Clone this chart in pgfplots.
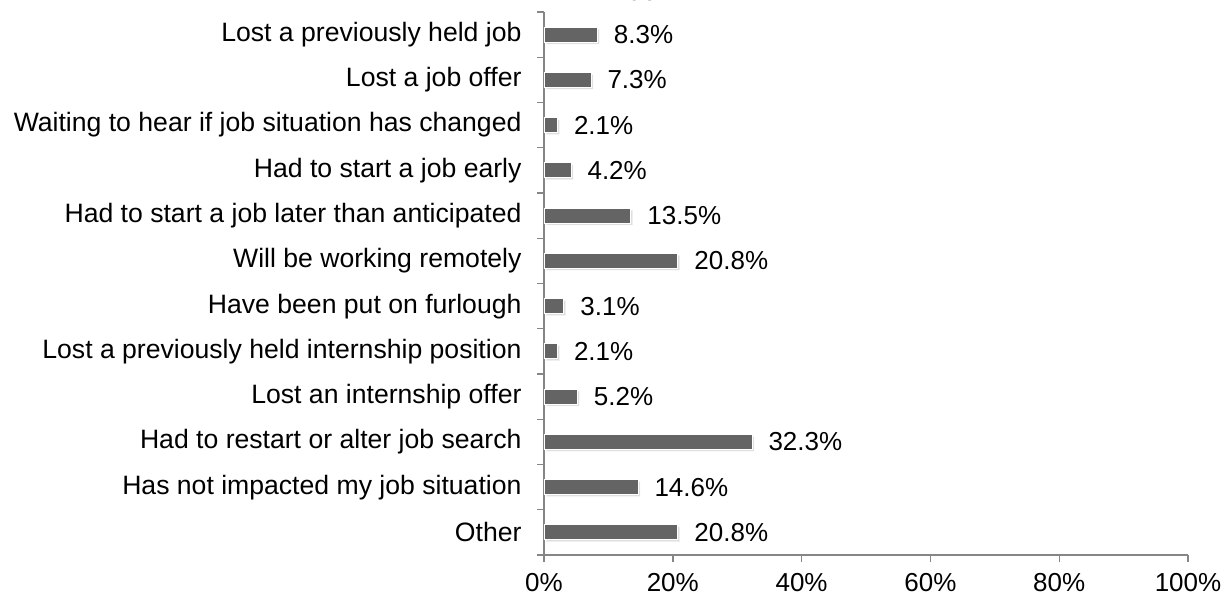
\documentclass[border=0pt]{standalone}
\usepackage{pgfplots}
\pgfplotsset{compat=1.18}
\usepackage{fontspec}
\setmainfont{Liberation Sans}
\usetikzlibrary{shadows}
\definecolor{barc}{RGB}{100,100,100}
\definecolor{axc}{RGB}{134,134,134}
\newcommand{\ff}{\fontsize{26}{30}\selectfont}
\newcommand{\fy}{\fontsize{26.6}{30}\selectfont}
\begin{document}
\begin{tikzpicture}[x=1pt,y=1pt]
\useasboundingbox (0,0) rectangle (1230,600);
\node[anchor=base, inner sep=0pt, font=\ff] at (620,599) {n = 96};
\begin{axis}[
  at={(544pt,45pt)}, anchor=south west,
  scale only axis, width=644pt, height=543pt,
  xmin=0, xmax=100, ymin=-0.5, ymax=11.5,
  axis x line*=bottom, axis y line*=left,
  axis line style={axc, line width=1.4pt},
  tick style={axc, line width=1.4pt},
  major tick length=7pt, tick align=outside,
  /pgf/number format/assume math mode=true,
  xtick={0,20,...,100},
  xticklabel={\pgfmathprintnumber{\tick}\%},
  xticklabel style={font=\ff, yshift=-8pt},
  ytick={-0.5,0.5,...,11.5},
  y tick label as interval,
  yticklabels={Other, Has not impacted my job situation, Had to restart or alter job search, Lost an internship offer, Lost a previously held internship position, Have been put on furlough, Will be working remotely, Had to start a job later than anticipated, Had to start a job early, Waiting to hear if job situation has changed, Lost a job offer, Lost a previously held job},
  yticklabel style={font=\fy, xshift=-12pt},
  nodes near coords={\pgfmathprintnumber[fixed,zerofill,precision=1]{\pgfplotspointmeta}\%},
  point meta=x,
  every node near coord/.append style={anchor=west, inner sep=0pt, xshift=16pt, draw=none, fill=none, text=black, font=\ff},
]
\addplot[xbar, bar width=15pt, fill=barc, draw=white, line width=1pt,
  drop shadow={shadow xshift=2pt, shadow yshift=-2pt, fill=black!25}]
coordinates {
(20.8,0) (14.6,1) (32.3,2) (5.2,3) (2.1,4) (3.1,5) (20.8,6) (13.5,7) (4.2,8) (2.1,9) (7.3,10) (8.3,11)
};
\end{axis}
\end{tikzpicture}
\end{document}
